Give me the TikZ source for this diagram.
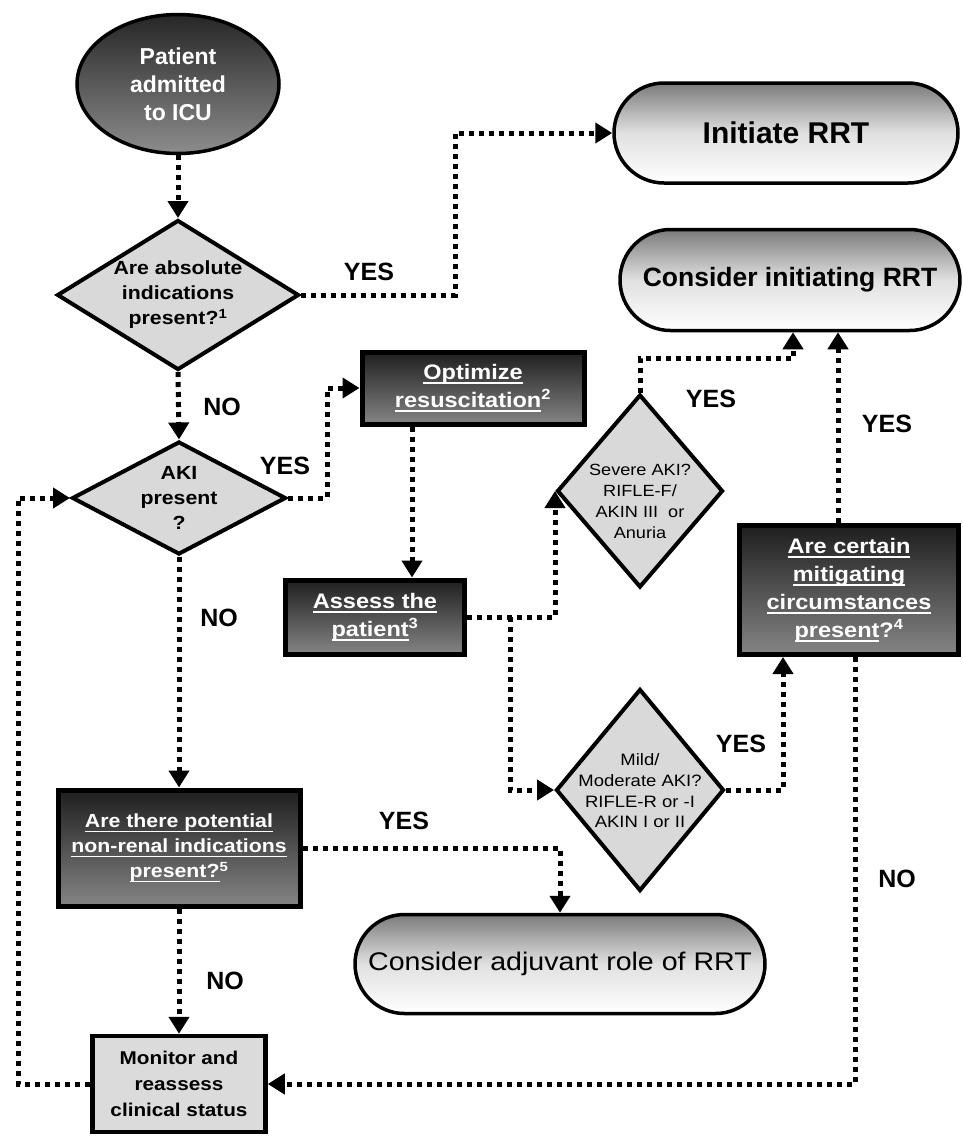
\documentclass[tikz,border=0pt]{standalone}
\usepackage{fontspec}
\setmainfont{Liberation Sans}
\newfontfamily\wide{Liberation Sans}[FakeStretch=1.12]
\usetikzlibrary{shapes.geometric,shapes.misc,arrows.meta}
\newcommand\ulx[1]{\setbox0\hbox{#1}\rlap{\rule[-5pt]{\wd0}{1.8pt}}\box0}
\newcommand\fs[2]{\fontsize{#1}{#2}\selectfont}
\tikzset{
  flow/.style={line width=5pt, dash pattern=on 5pt off 5pt, line join=miter,
    -{Triangle[width=20pt,length=17pt]}},
  darkbox/.style={rectangle, draw=black, line width=5pt, top color=black!88,
    bottom color=black!48, text=white, align=center, inner sep=0pt},
  lightbox/.style={rectangle, draw=black, line width=4.5pt, fill=black!14,
    align=center, inner sep=0pt},
  decision/.style={diamond, draw=black, line width=4pt, fill=black!15, inner sep=0pt},
  dtext/.style={align=center, inner sep=0pt},
  stadium/.style={rounded rectangle, draw=black, line width=3.5pt, top color=black!52,
    bottom color=white, middle color=black!12, inner sep=0pt},
  lbl/.style={inner sep=0pt, font=\bfseries\fs{25}{25}},
}
\begin{document}
\begin{tikzpicture}[x=1pt,y=-1pt]
\useasboundingbox (0,0) rectangle (963,1136);

% nodes
\node[ellipse, draw=black, line width=3.5pt, minimum width=202pt, minimum height=139pt,
  top color=black!85, bottom color=black!45, text=white, align=center, inner sep=0pt,
  font=\bfseries\fs{23}{28}] (pat) at (178,84) {Patient\\admitted\\to ICU};

\node[decision, minimum width=242pt, minimum height=150pt] (d1) at (178,295) {};
\node[dtext, font=\wide\bfseries\fs{19}{25}] (d1t) at (178,295)
  {Are absolute\\indications\\present?\textsuperscript{1}};

\node[stadium, minimum width=344pt, minimum height=100pt, font=\bfseries\fs{30}{30}]
  (init) at (786,133) {Initiate RRT};
\node[stadium, minimum width=340pt, minimum height=101pt, font=\bfseries\fs{26.5}{30}]
  (consinit) at (790,280) {Consider initiating RRT};

\node[decision, minimum width=214pt, minimum height=113pt] (aki) at (179,498) {};
\node[dtext, font=\wide\bfseries\fs{19}{25}] (akit) at (179,498) {AKI\\present\\?};

\node[darkbox, minimum width=222pt, minimum height=72pt, font=\wide\bfseries\fs{21}{28}]
  (opt) at (473,388) {\ulx{Optimize}\\\ulx{resuscitation}\textsuperscript{2}};

\node[darkbox, minimum width=179pt, minimum height=74pt, font=\wide\bfseries\fs{21}{28}]
  (assess) at (375,617) {\ulx{Assess the}\\\ulx{patient}\textsuperscript{3}};

\node[decision, minimum width=166pt, minimum height=193pt] (sev) at (640,491) {};
\node[dtext, font=\wide\fs{16.2}{21}] (sevt) at (640,501)
  {Severe AKI?\\RIFLE-F/\\AKIN III\ \ or\\Anuria};

\node[darkbox, minimum width=219pt, minimum height=129pt, font=\wide\bfseries\fs{21}{28}]
  (mitig) at (849,590) {\ulx{Are certain}\\\ulx{mitigating}\\\ulx{circumstances}\\\ulx{present}?\textsuperscript{4}};

\node[decision, minimum width=168pt, minimum height=202pt] (mild) at (640,790) {};
\node[dtext, font=\wide\fs{16.5}{20.7}] (mildt) at (640,791)
  {Mild/\\Moderate AKI?\\RIFLE-R or -I\\AKIN I or II};

\node[darkbox, minimum width=242pt, minimum height=116pt, font=\wide\bfseries\fs{19}{25}]
  (nonren) at (179,848) {\ulx{Are there potential}\\\ulx{non-renal indications}\\\ulx{present?}\textsuperscript{5}};

\node[stadium, minimum width=410pt, minimum height=99pt, font=\wide\fs{25.5}{30}]
  (adj) at (560,964) {Consider adjuvant role of RRT};

\node[lightbox, minimum width=173pt, minimum height=96pt, font=\wide\bfseries\fs{18.5}{26}]
  (mon) at (179,1084) {Monitor and\\reassess\\clinical status};

% helper coordinates
\coordinate (c1) at (455,200);
\coordinate (c2) at (327,450);
\coordinate (c3) at (412,0);
\coordinate (c4) at (510,0);
\coordinate (c5) at (793,358);
\coordinate (c6) at (838,0);
\coordinate (c7) at (783,0);
\coordinate (c8) at (855,0);
\coordinate (c10) at (18,800);

% connectors
\draw[flow] (pat) -- (d1);
\draw[flow] (d1.east) -| (c1) |- (init.west);
\draw[flow] (d1.south) -- (aki.north);
\draw[flow] (aki.east) -| (c2) |- (opt.west);
\draw[flow] (opt.south -| c3) -- (assess.north -| c3);
\draw[flow] (assess.east) -| (sev.west);
\draw[flow] (assess.east -| c4) |- (mild.west);
\draw[flow] (sev.north) |- (c5) -- (consinit.south -| c5);
\draw[flow] (mitig.north -| c6) -- (consinit.south -| c6);
\draw[flow] (mild.east) -| (mitig.south -| c7);
\draw[flow] (mitig.south -| c8) |- (mon.east);
\draw[flow] (mon.west) -| (c10) |- (aki.west);
\draw[flow] (aki.south) -- (nonren.north);
\draw[flow] (nonren.east) -| (adj.north);
\draw[flow] (nonren.south) -- (mon.north);

% labels
\node[lbl] (y1) at (369,272) {YES};
\node[lbl] (n1) at (222,407) {NO};
\node[lbl] (y2) at (285,466) {YES};
\node[lbl] (n2) at (219,618) {NO};
\node[lbl] (y3) at (711,399) {YES};
\node[lbl] (y4) at (887,424) {YES};
\node[lbl] (y5) at (741,744) {YES};
\node[lbl] (n3) at (897,879) {NO};
\node[lbl] (y6) at (404,821) {YES};
\node[lbl] (n4) at (225,981) {NO};
\end{tikzpicture}
\end{document}
